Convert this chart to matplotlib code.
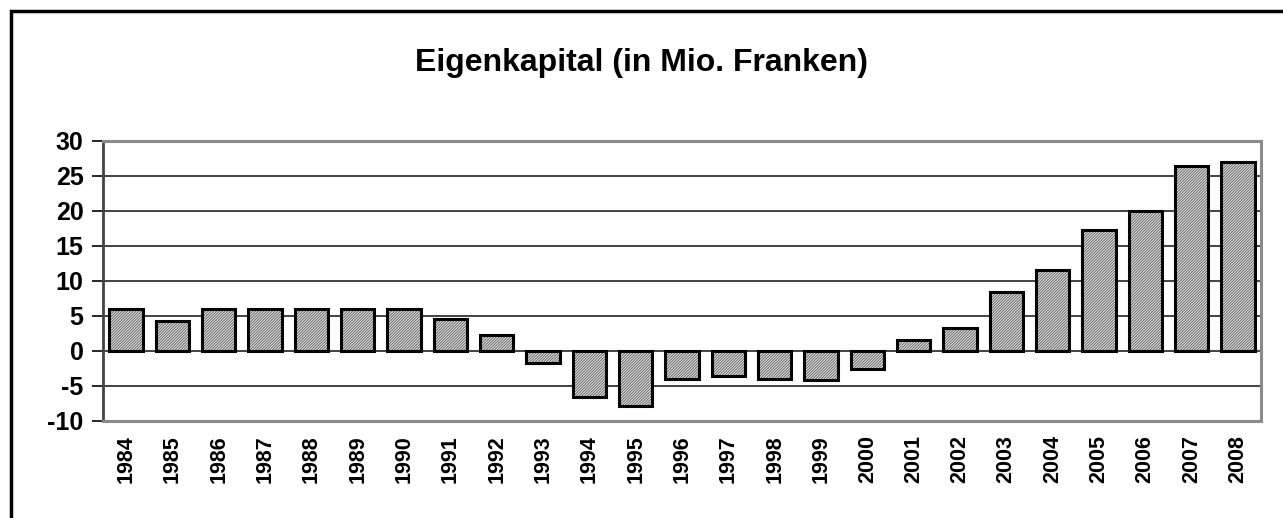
import matplotlib.pyplot as plt
from matplotlib.patches import Rectangle

plt.rcParams['font.family'] = ['Liberation Sans', 'DejaVu Sans']
plt.rcParams['hatch.linewidth'] = 0.6

# Eigenkapital in Mio. Franken
years = ['1984', '1985', '1986', '1987', '1988', '1989', '1990', '1991', '1992',
         '1993', '1994', '1995', '1996', '1997', '1998', '1999', '2000', '2001',
         '2002', '2003', '2004', '2005', '2006', '2007', '2008']
equity = [6.0, 4.3, 6.0, 6.0, 6.0, 6.0, 6.0, 4.6, 2.2,
          -1.75, -6.6, -7.9, -4.0, -3.6, -4.0, -4.1, -2.6, 1.5,
          3.3, 8.35, 11.5, 17.3, 20.0, 26.4, 26.9]
yticks = [-10, -5, 0, 5, 10, 15, 20, 25, 30]

fig = plt.figure(figsize=(12.83, 5.18), dpi=100)
ax = fig.add_axes([103 / 1283, 1 - 421 / 518, (1261 - 103) / 1283, (421 - 140.5) / 518])

x = range(len(years))
# hatched fill, then black outline on top
ax.bar(x, equity, width=0.72, color='#e0e0e0', edgecolor='#5c5c5c', hatch='////////////',
       linewidth=0, zorder=3)
ax.bar(x, equity, width=0.72, fill=False, edgecolor='black', linewidth=2.2, zorder=4)

ax.set_xlim(-0.5, len(years) - 0.5)
ax.set_ylim(-10, 30)
ax.set_yticks(yticks)
ax.set_yticklabels([str(t) for t in yticks], fontsize=18, fontweight='bold')
ax.set_xticks(list(x))
ax.set_xticklabels(years, rotation=90, fontsize=15.5, fontweight='bold')
ax.tick_params(axis='x', length=0, pad=10)
ax.tick_params(axis='y', length=8, width=1.2, direction='out', pad=6, color='black')

ax.yaxis.grid(True, color='#222222', linewidth=1.2, zorder=0)
ax.set_axisbelow(True)
for side in ['top', 'right', 'bottom']:
    ax.spines[side].set_color('#8a8a8a')
    ax.spines[side].set_linewidth(2.2)
ax.spines['left'].set_color('#444444')
ax.spines['left'].set_linewidth(2)

fig.text(0.5, 1 - 63 / 518, 'Eigenkapital (in Mio. Franken)', ha='center', va='center',
         fontsize=23, fontweight='bold')

# outer chart border
fig.patches.append(Rectangle((10.5 / 1283, -0.1), 1.2, 1 - 11 / 518 + 0.1, transform=fig.transFigure,
                             fill=False, edgecolor='black', linewidth=2.5))

fig.savefig('out.png', dpi=100)
